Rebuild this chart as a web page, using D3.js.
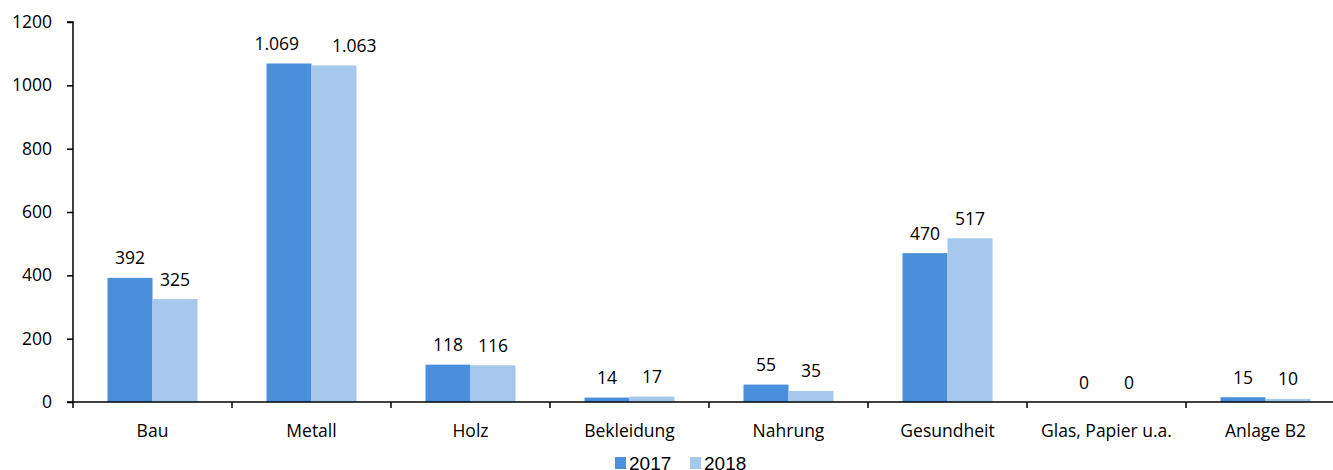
<!DOCTYPE html>
<html>
<head>
<meta charset="utf-8">
<script src="https://cdn.jsdelivr.net/npm/d3@7"></script>
<style>
  body { margin: 0; background: #fff; }
  svg text { font-family: "Open Sans", sans-serif; fill: #000; }
</style>
</head>
<body>
<svg id="svg1" width="1333" height="470"></svg>
<script>
var categories = ["Bau", "Metall", "Holz", "Bekleidung", "Nahrung", "Gesundheit", "Glas, Papier u.a.", "Anlage B2"];
var seriesNames = ["2017", "2018"];
var values2017 = [392, 1069, 118, 14, 55, 470, 0, 15];
var values2018 = [325, 1063, 116, 17, 35, 517, 0, 10];
var yTicks = [0, 200, 400, 600, 800, 1000, 1200];
var colors = ["#4a8fdb", "#a7c8ed"];

var svg = d3.select("svg#svg1");
var plotLeft = 73, plotTop = 22, plotBottom = 402;
var plotRight = plotLeft + 159 * categories.length;
var fontSize = "17.5px";

var yScale = d3.scaleLinear().domain([0, 1200]).range([plotBottom, plotTop]);
var xScale = d3.scaleBand().domain(categories).range([plotLeft, plotRight]);
var inner = d3.scaleBand().domain(seriesNames)
  .range([34.5, xScale.bandwidth() - 34.5]);

var fmt = function(v) {
  return d3.format(",")(v).replace(/,/g, ".");
};

var rows = categories.map(function(c, i) {
  return { cat: c, vals: [values2017[i], values2018[i]] };
});

var groups = svg.selectAll("g.cat").data(rows).enter()
  .append("g")
  .attr("class", "cat")
  .attr("transform", function(d) { return "translate(" + xScale(d.cat) + ",0)"; });

groups.selectAll("rect")
  .data(function(d) { return d.vals.map(function(v, j) { return { s: seriesNames[j], v: v, j: j }; }); })
  .enter().append("rect")
  .attr("x", function(d) { return inner(d.s); })
  .attr("width", inner.bandwidth())
  .attr("y", function(d) { return yScale(d.v); })
  .attr("height", function(d) { return plotBottom - yScale(d.v); })
  .attr("fill", function(d) { return colors[d.j]; });

var labels = groups.selectAll("text.val")
  .data(function(d) { return d.vals.map(function(v, j) { return { s: seriesNames[j], v: v, j: j }; }); })
  .enter().append("text")
  .attr("class", "val")
  .attr("x", function(d) { return inner(d.s) + inner.bandwidth() / 2; })
  .attr("y", function(d) { return yScale(d.v) - 13.5; })
  .attr("text-anchor", "middle")
  .style("font-size", fontSize)
  .text(function(d) { return fmt(d.v); });

// wide labels get pushed apart so they don't collide
labels.each(function(d) {
  var w = this.getComputedTextLength();
  if (w > inner.bandwidth() - 4) {
    var shift = w / 2 - 7;
    d3.select(this).attr("dx", d.j === 0 ? -shift + 3 : shift + 5);
  }
});

// y axis
var yAxis = d3.axisLeft(yScale).tickValues(yTicks).tickFormat(d3.format("d"))
  .tickSize(6).tickPadding(15);
var yg = svg.append("g").attr("transform", "translate(" + plotLeft + ",0)").call(yAxis);
yg.select(".domain").attr("d", "M-6," + plotTop + "H0V" + plotBottom + "H-6");
yg.selectAll("text").style("font-size", fontSize).style("font-family", "Open Sans, sans-serif");
yg.selectAll("line, path").attr("stroke", "#000").attr("stroke-width", 1.5);

// x axis
var xg = svg.append("g").attr("transform", "translate(0," + plotBottom + ")");
xg.append("line").attr("x1", plotLeft).attr("x2", plotRight)
  .attr("stroke", "#000").attr("stroke-width", 1.5);
xg.selectAll("line.tick")
  .data(d3.range(categories.length + 1)).enter()
  .append("line")
  .attr("x1", function(i) { return plotLeft + i * xScale.step(); })
  .attr("x2", function(i) { return plotLeft + i * xScale.step(); })
  .attr("y1", 0).attr("y2", 6)
  .attr("stroke", "#000").attr("stroke-width", 1.5);
xg.selectAll("text")
  .data(categories).enter()
  .append("text")
  .attr("x", function(d) { return xScale(d) + xScale.bandwidth() / 2; })
  .attr("y", 35)
  .attr("text-anchor", "middle")
  .style("font-size", fontSize)
  .text(function(d) { return d; });

// legend
var legend = svg.append("g").attr("transform", "translate(615,457)");
var lx = [0, 75];
seriesNames.forEach(function(s, j) {
  legend.append("rect").attr("x", lx[j]).attr("y", 0).attr("width", 11).attr("height", 12)
    .attr("fill", colors[j]);
  legend.append("text").attr("x", lx[j] + 14).attr("y", 12.5)
    .style("font-family", "Liberation Sans, Arial, sans-serif")
    .style("font-size", "19px")
    .text(s);
});
</script>
</body>
</html>
